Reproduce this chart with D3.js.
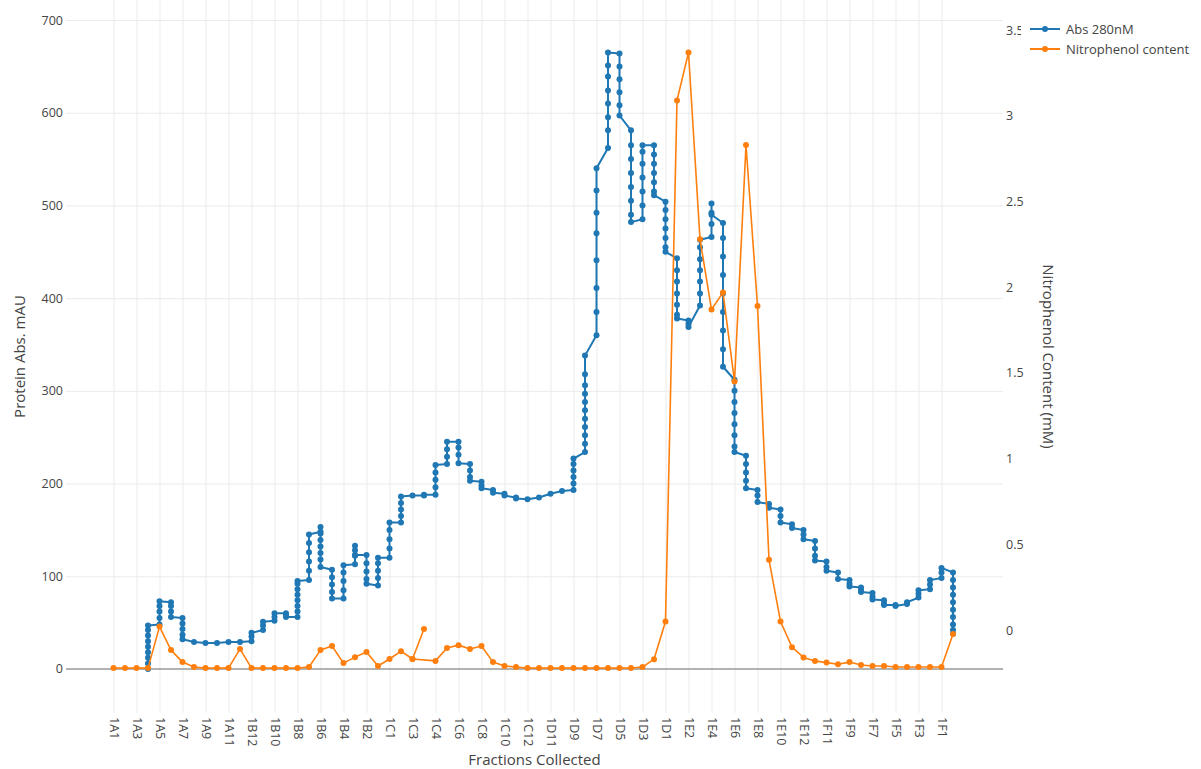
<!DOCTYPE html>
<html>
<head>
<meta charset="utf-8">
<script src="https://cdn.jsdelivr.net/npm/d3@7"></script>
<style>
  html, body { margin: 0; padding: 0; background: #fff; }
  svg { display: block; font-family: "Open Sans", "DejaVu Sans", sans-serif; }
</style>
</head>
<body>
<svg id="chart" width="1201" height="769"></svg>
<script>
// Fractions in collection order (plate/row/well)
const fractions = [
  "1A1","1A2","1A3","1A4","1A5","1A6","1A7","1A8","1A9","1A10","1A11","1A12",
  "1B12","1B11","1B10","1B9","1B8","1B7","1B6","1B5","1B4","1B3","1B2","1B1",
  "1C1","1C2","1C3","1C3b","1C4","1C5","1C6","1C7","1C8","1C9","1C10","1C11","1C12",
  "1D12","1D11","1D10","1D9","1D8","1D7","1D6","1D5","1D4","1D3","1D2","1D1",
  "1E1","1E2","1E3","1E4","1E5","1E6","1E7","1E8","1E9","1E10","1E11","1E12",
  "1F12","1F11","1F10","1F9","1F8","1F7","1F6","1F5","1F4","1F3","1F2","1F1","1F1b"
];

// Absorbance at 280 nm (mAU): detector readings logged during each fraction
const absReadings = [
  [], [], [],
  [0, 6, 12, 18, 24, 30, 36, 42, 47],
  [48, 55, 62, 68, 73],
  [72, 68, 62, 56],
  [55, 49, 43, 37, 32],
  [29], [28], [28], [29], [29],
  [30, 35, 39],
  [42, 47, 51],
  [52, 56, 60],
  [60, 58, 56],
  [56, 62, 68, 74, 80, 86, 92, 95],
  [96, 106, 116, 126, 136, 145],
  [148, 153, 146, 139, 132, 125, 118, 110],
  [107, 99, 91, 83, 76],
  [76, 85, 95, 104, 112],
  [113, 122, 133, 128, 123],
  [123, 114, 105, 97, 92],
  [90, 98, 106, 114, 120],
  [120, 130, 140, 150, 158],
  [158, 165, 172, 179, 186],
  [187],
  [187, 188],
  [188, 196, 204, 212, 220],
  [221, 229, 237, 245],
  [245, 239, 231, 222],
  [221, 214, 207, 203],
  [202, 198, 195],
  [193, 190],
  [189, 187],
  [185, 184],
  [183],
  [185],
  [189],
  [192],
  [193, 200, 207, 214, 221, 227],
  [234, 243, 252, 261, 270, 279, 288, 297, 306, 318, 338],
  [360, 385, 411, 441, 470, 492, 516, 540],
  [562, 581, 595, 610, 624, 639, 651, 665],
  [664, 650, 636, 622, 608, 597],
  [581, 565, 550, 535, 520, 505, 490, 482],
  [485, 500, 515, 530, 545, 558, 565],
  [565, 555, 545, 535, 525, 515, 511],
  [504, 495, 485, 475, 465, 455, 450],
  [443, 430, 418, 405, 393, 382, 378],
  [376, 372, 369],
  [392, 405, 418, 430, 442, 455, 463],
  [466, 480, 492, 502, 490],
  [481, 465, 445, 425, 405, 385, 365, 345, 326],
  [312, 300, 288, 276, 264, 252, 240, 234],
  [230, 221, 212, 203, 195],
  [193, 187, 180],
  [178, 174],
  [172, 165, 158],
  [156, 152],
  [150, 145, 140],
  [138, 130, 122, 117],
  [116, 110, 106],
  [104, 97],
  [96, 92, 89],
  [88, 85, 83],
  [82, 78, 75],
  [74, 71, 69],
  [69, 68],
  [70, 72],
  [77, 81, 85],
  [86, 91, 96],
  [98, 104, 109],
  [104, 96, 88, 80, 72, 64, 56, 48, 42, 38]
];

// Nitrophenol assay (mM), in the order the wells were measured
const nitroFractions = [
  "1A1","1A2","1A3","1A4","1A5","1A6","1A7","1A8","1A9","1A10","1A11","1A12",
  "1B12","1B11","1B10","1B9","1B8","1B7","1B6","1B5","1B4","1B3","1B2","1B1",
  "1C1","1C2","1C3","1C3b","1C3","1C4","1C5","1C6","1C7","1C8","1C9","1C10","1C11","1C12",
  "1D12","1D11","1D10","1D9","1D8","1D7","1D6","1D5","1D4","1D3","1D2","1D1",
  "1E1","1E2","1E3","1E4","1E5","1E6","1E7","1E8","1E9","1E10","1E11","1E12",
  "1F12","1F11","1F10","1F9","1F8","1F7","1F6","1F5","1F4","1F3","1F2","1F1","1F1b"
];
const nitroValues = [
  -0.222, -0.222, -0.222, -0.222, 0.02, -0.117, -0.187, -0.216, -0.222, -0.222, -0.222, -0.11,
  -0.222, -0.222, -0.222, -0.222, -0.222, -0.216, -0.117, -0.093, -0.193, -0.158, -0.128, -0.21,
  -0.169, -0.123, -0.169, 0.006, -0.169, -0.18, -0.105, -0.088, -0.111, -0.093, -0.187, -0.21, -0.216, -0.222,
  -0.222, -0.222, -0.222, -0.222, -0.222, -0.222, -0.222, -0.222, -0.222, -0.216, -0.17, 0.05,
  3.09, 3.37, 2.28, 1.87, 1.97, 1.45, 2.83, 1.89, 0.41, 0.05, -0.10, -0.16,
  -0.18, -0.19, -0.20, -0.187, -0.204, -0.21, -0.21, -0.216, -0.216, -0.216, -0.216, -0.216, -0.023
];

const xTickLabels = [
  "1A1","1A3","1A5","1A7","1A9","1A11","1B12","1B10","1B8","1B6","1B4","1B2",
  "1C1","1C3","1C4","1C6","1C8","1C10","1C12","1D11","1D9","1D7","1D5","1D3","1D1",
  "1E2","1E4","1E6","1E8","1E10","1E12","1F11","1F9","1F7","1F5","1F3","1F1"
];
const absTicks = [0, 100, 200, 300, 400, 500, 600, 700];
const nitroTicks = [0, 0.5, 1, 1.5, 2, 2.5, 3, 3.5];

const seriesNames = ["Abs 280nM", "Nitrophenol content"];
const colors = ["#1f77b4", "#ff7f0e"];

// ---- layout ----
const plot = { left: 66, right: 1003, top: 0, bottom: 713 };
const svg = d3.select("#chart");
svg.append("rect").attr("width", 1201).attr("height", 769).attr("fill", "#fff");

const x = d3.scalePoint().domain(fractions).range([113.5, 953]);
const yAbs = d3.scaleLinear().domain([-47.5, 721.6]).range([plot.bottom, plot.top]);
const yNitro = d3.scaleLinear().domain([-0.484, 3.676]).range([plot.bottom, plot.top]);

const textColor = "#444";
const font = "'Open Sans', sans-serif";

// vertical grid at labelled fractions
svg.append("g")
  .attr("transform", `translate(0,${plot.bottom})`)
  .call(d3.axisBottom(x).tickValues(xTickLabels).tickSize(-(plot.bottom - plot.top)).tickFormat(""))
  .call(g => g.select(".domain").remove())
  .call(g => g.selectAll("line").attr("stroke", "#ebebeb").attr("stroke-width", 1));

// horizontal grid from the absorbance axis
svg.append("g")
  .attr("transform", `translate(${plot.left},0)`)
  .call(d3.axisLeft(yAbs).tickValues(absTicks.filter(t => t !== 0)).tickSize(-(plot.right - plot.left)).tickFormat(""))
  .call(g => g.select(".domain").remove())
  .call(g => g.selectAll("line").attr("stroke", "#ebebeb").attr("stroke-width", 1));

// zero line
svg.append("line")
  .attr("x1", plot.left).attr("x2", plot.right)
  .attr("y1", yAbs(0)).attr("y2", yAbs(0))
  .attr("stroke", "#999").attr("stroke-width", 1.5);

// left axis labels
svg.append("g")
  .attr("transform", `translate(${plot.left - 3},0)`)
  .call(d3.axisLeft(yAbs).tickValues(absTicks).tickSize(0).tickPadding(0))
  .call(g => g.select(".domain").remove())
  .call(g => g.selectAll("text").attr("fill", textColor).style("font-size", "12.5px")
    .style("font-family", font));

// right axis labels
svg.append("g")
  .attr("transform", `translate(${plot.right + 3},0)`)
  .call(d3.axisRight(yNitro).tickValues(nitroTicks).tickSize(0).tickPadding(0)
    .tickFormat(d => String(d)))
  .call(g => g.select(".domain").remove())
  .call(g => g.selectAll("text").attr("fill", textColor).style("font-size", "12.5px")
    .style("font-family", font));

// bottom axis labels, rotated
svg.append("g")
  .attr("transform", `translate(0,${plot.bottom})`)
  .call(d3.axisBottom(x).tickValues(xTickLabels).tickSize(0))
  .call(g => g.select(".domain").remove())
  .call(g => g.selectAll("text")
    .attr("fill", textColor)
    .style("font-size", "12.5px")
    .style("font-family", font)
    .attr("y", 0).attr("x", 4).attr("dy", "0.35em")
    .attr("transform", "rotate(90)")
    .style("text-anchor", "start"));

// axis titles
const titleStyle = sel => sel.attr("fill", textColor).style("font-size", "15px")
  .style("font-family", font).attr("text-anchor", "middle");
svg.append("text").call(titleStyle)
  .attr("x", (plot.left + plot.right) / 2).attr("y", 765)
  .text("Fractions Collected");
svg.append("text").call(titleStyle)
  .attr("transform", `translate(25,${(plot.top + plot.bottom) / 2}) rotate(-90)`)
  .text("Protein Abs. mAU");
svg.append("text").call(titleStyle)
  .attr("transform", `translate(1043,${(plot.top + plot.bottom) / 2}) rotate(90)`)
  .text("Nitrophenol Content (mM)");

// ---- series ----
const absPoints = [];
fractions.forEach((f, i) => absReadings[i].forEach(v => absPoints.push({ f, v })));
const nitroPoints = nitroFractions.map((f, i) => ({ f, v: nitroValues[i] }));

const absLine = d3.line().x(d => x(d.f)).y(d => yAbs(d.v));
const nitroLine = d3.line().x(d => x(d.f)).y(d => yNitro(d.v));

const gAbs = svg.append("g");
gAbs.append("path").datum(absPoints)
  .attr("d", absLine).attr("fill", "none")
  .attr("stroke", colors[0]).attr("stroke-width", 2).attr("stroke-linejoin", "round");
gAbs.selectAll("circle").data(absPoints).join("circle")
  .attr("cx", d => x(d.f)).attr("cy", d => yAbs(d.v)).attr("r", 3)
  .attr("fill", colors[0]);

const gNitro = svg.append("g");
gNitro.append("path").datum(nitroPoints)
  .attr("d", nitroLine).attr("fill", "none")
  .attr("stroke", colors[1]).attr("stroke-width", 1.6).attr("stroke-linejoin", "round");
gNitro.selectAll("circle").data(nitroPoints).join("circle")
  .attr("cx", d => x(d.f)).attr("cy", d => yNitro(d.v)).attr("r", 3)
  .attr("fill", colors[1]);

// ---- legend (white box sits over the top of the right axis labels) ----
const legend = svg.append("g");
legend.append("rect").attr("x", 1021).attr("y", 17).attr("width", 180).attr("height", 44).attr("fill", "#fff");
seriesNames.forEach((name, i) => {
  const yy = 29 + i * 20;
  legend.append("line").attr("x1", 1030).attr("x2", 1060).attr("y1", yy).attr("y2", yy)
    .attr("stroke", colors[i]).attr("stroke-width", 2);
  legend.append("circle").attr("cx", 1045).attr("cy", yy).attr("r", 3).attr("fill", colors[i]);
  legend.append("text").attr("x", 1066).attr("y", yy).attr("dy", "0.35em")
    .attr("fill", textColor).style("font-size", "13px")
    .style("font-family", font)
    .text(name);
});
</script>
</body>
</html>
